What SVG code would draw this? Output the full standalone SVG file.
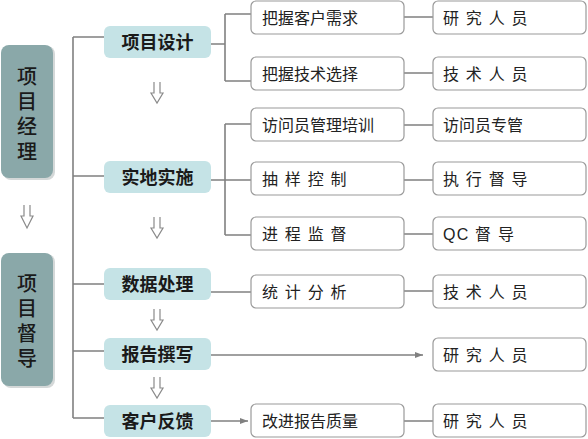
<svg xmlns="http://www.w3.org/2000/svg" width="588" height="439" viewBox="0 0 588 439">
<style>
.lead{fill:#8aa8a9}
.shadow{fill:#d4d8d8}
.mid{fill:#c5e3e6}
.box{fill:#ffffff;stroke:#9a9a9a;stroke-width:1.2}
.ln{stroke:#808080;stroke-width:1.6;fill:none}
.dn{stroke:#8a8a8a;stroke-width:1.2;fill:none}
.tl{font-family:"Noto Sans CJK SC","Noto Sans",sans-serif;font-size:20px;fill:#1a1a1a;text-anchor:middle;font-weight:500;writing-mode:vertical-rl;letter-spacing:5px}
.tm{font-family:"Noto Sans CJK SC","Noto Sans",sans-serif;font-size:18px;fill:#1a1a1a;text-anchor:middle;font-weight:700}
.tr{font-family:"Liberation Sans","Noto Sans CJK SC",sans-serif;font-size:16px;fill:#222}
.sp{letter-spacing:1.2px}
</style>
<defs>
<marker id="ah" markerWidth="8" markerHeight="6" refX="8" refY="3" orient="auto" markerUnits="userSpaceOnUse">
<path d="M0,0 L8,3 L0,6 Z" fill="#808080"/>
</marker>
</defs>

<g id="connectors">
<path class="ln" d="M73,37 V418"/>
<path class="ln" d="M73,37 H104 M73,176 H104 M73,284 H104 M73,351 H104 M73,418 H104"/>
<path class="ln" d="M211,44 H225 M225,14 V81 M225,14 H251 M225,81 H251"/>
<path class="ln" d="M211,180 H251 M225,124 V235 M225,124 H251 M225,235 H251"/>
<path class="ln" d="M211,292 H251"/>
<path class="ln" d="M211,355 H423" marker-end="url(#ah)"/>
<path class="ln" d="M211,421 H248" marker-end="url(#ah)"/>
<path class="ln" d="M404,17 H433 M404,73 H433 M404,125 H433 M404,180 H433 M404,234 H433 M404,291 H433 M404,421 H433"/>
<path class="dn" d="M24,205 V216 H21 L27,228 L33,216 H30 V205"/>
<path class="dn" d="M154,82 V93 H151 L157,103 L163,93 H160 V82"/>
<path class="dn" d="M154,217 V228 H151 L157,238 L163,228 H160 V217"/>
<path class="dn" d="M154,309 V320 H151 L157,330 L163,320 H160 V309"/>
<path class="dn" d="M154,377 V388 H151 L157,398 L163,388 H160 V377"/>
</g>

<g id="pm">
<rect class="shadow" x="3" y="46" width="52" height="134" rx="8"/>
<rect class="lead" x="1" y="45" width="52" height="133" rx="8"/>
<text class="tl" x="27" y="116">项目经理</text>
</g>
<g id="ps">
<rect class="shadow" x="3" y="254" width="52" height="134" rx="8"/>
<rect class="lead" x="1" y="253" width="52" height="133" rx="8"/>
<text class="tl" x="27" y="323">项目督导</text>
</g>

<g id="m1"><rect class="mid" x="104" y="26" width="107" height="32" rx="6"/><text class="tm" x="157.5" y="48.5">项目设计</text></g>
<g id="m2"><rect class="mid" x="104" y="161" width="107" height="32" rx="6"/><text class="tm" x="157.5" y="183.5">实地实施</text></g>
<g id="m3"><rect class="mid" x="104" y="268" width="107" height="32" rx="6"/><text class="tm" x="157.5" y="290.5">数据处理</text></g>
<g id="m4"><rect class="mid" x="104" y="338" width="107" height="32" rx="6"/><text class="tm" x="157.5" y="360.5">报告撰写</text></g>
<g id="m5"><rect class="mid" x="104" y="405" width="107" height="32" rx="6"/><text class="tm" x="157.5" y="427.5">客户反馈</text></g>

<g id="r1"><rect class="box" x="251" y="1" width="153" height="33" rx="5"/><text class="tr" x="262" y="23.5">把握客户需求</text></g>
<g id="r2"><rect class="box" x="251" y="57" width="153" height="33" rx="5"/><text class="tr" x="262" y="79.5">把握技术选择</text></g>
<g id="r3"><rect class="box" x="251" y="108" width="153" height="33" rx="5"/><text class="tr" x="262" y="130.5">访问员管理培训</text></g>
<g id="r4"><rect class="box" x="251" y="162" width="153" height="33" rx="5"/><text class="tr sp" x="262" y="184.5">抽 样 控 制</text></g>
<g id="r5"><rect class="box" x="251" y="217" width="153" height="33" rx="5"/><text class="tr sp" x="262" y="239.5">进 程 监 督</text></g>
<g id="r6"><rect class="box" x="251" y="275" width="153" height="33" rx="5"/><text class="tr sp" x="262" y="297.5">统 计 分 析</text></g>
<g id="r7"><rect class="box" x="251" y="404" width="153" height="33" rx="5"/><text class="tr" x="262" y="426.5">改进报告质量</text></g>

<g id="f1"><rect class="box" x="433" y="1" width="153" height="33" rx="5"/><text class="tr sp" x="443" y="23.5">研 究 人 员</text></g>
<g id="f2"><rect class="box" x="433" y="57" width="153" height="33" rx="5"/><text class="tr sp" x="443" y="79.5">技 术 人 员</text></g>
<g id="f3"><rect class="box" x="433" y="108" width="153" height="33" rx="5"/><text class="tr" x="443" y="130.5">访问员专管</text></g>
<g id="f4"><rect class="box" x="433" y="162" width="153" height="33" rx="5"/><text class="tr sp" x="443" y="184.5">执 行 督 导</text></g>
<g id="f5"><rect class="box" x="433" y="217" width="153" height="33" rx="5"/><text class="tr sp" x="443" y="239.5">QC 督 导</text></g>
<g id="f6"><rect class="box" x="433" y="275" width="153" height="33" rx="5"/><text class="tr sp" x="443" y="297.5">技 术 人 员</text></g>
<g id="f7"><rect class="box" x="433" y="338" width="153" height="33" rx="5"/><text class="tr sp" x="443" y="360.5">研 究 人 员</text></g>
<g id="f8"><rect class="box" x="433" y="404" width="153" height="33" rx="5"/><text class="tr sp" x="443" y="426.5">研 究 人 员</text></g>
</svg>
